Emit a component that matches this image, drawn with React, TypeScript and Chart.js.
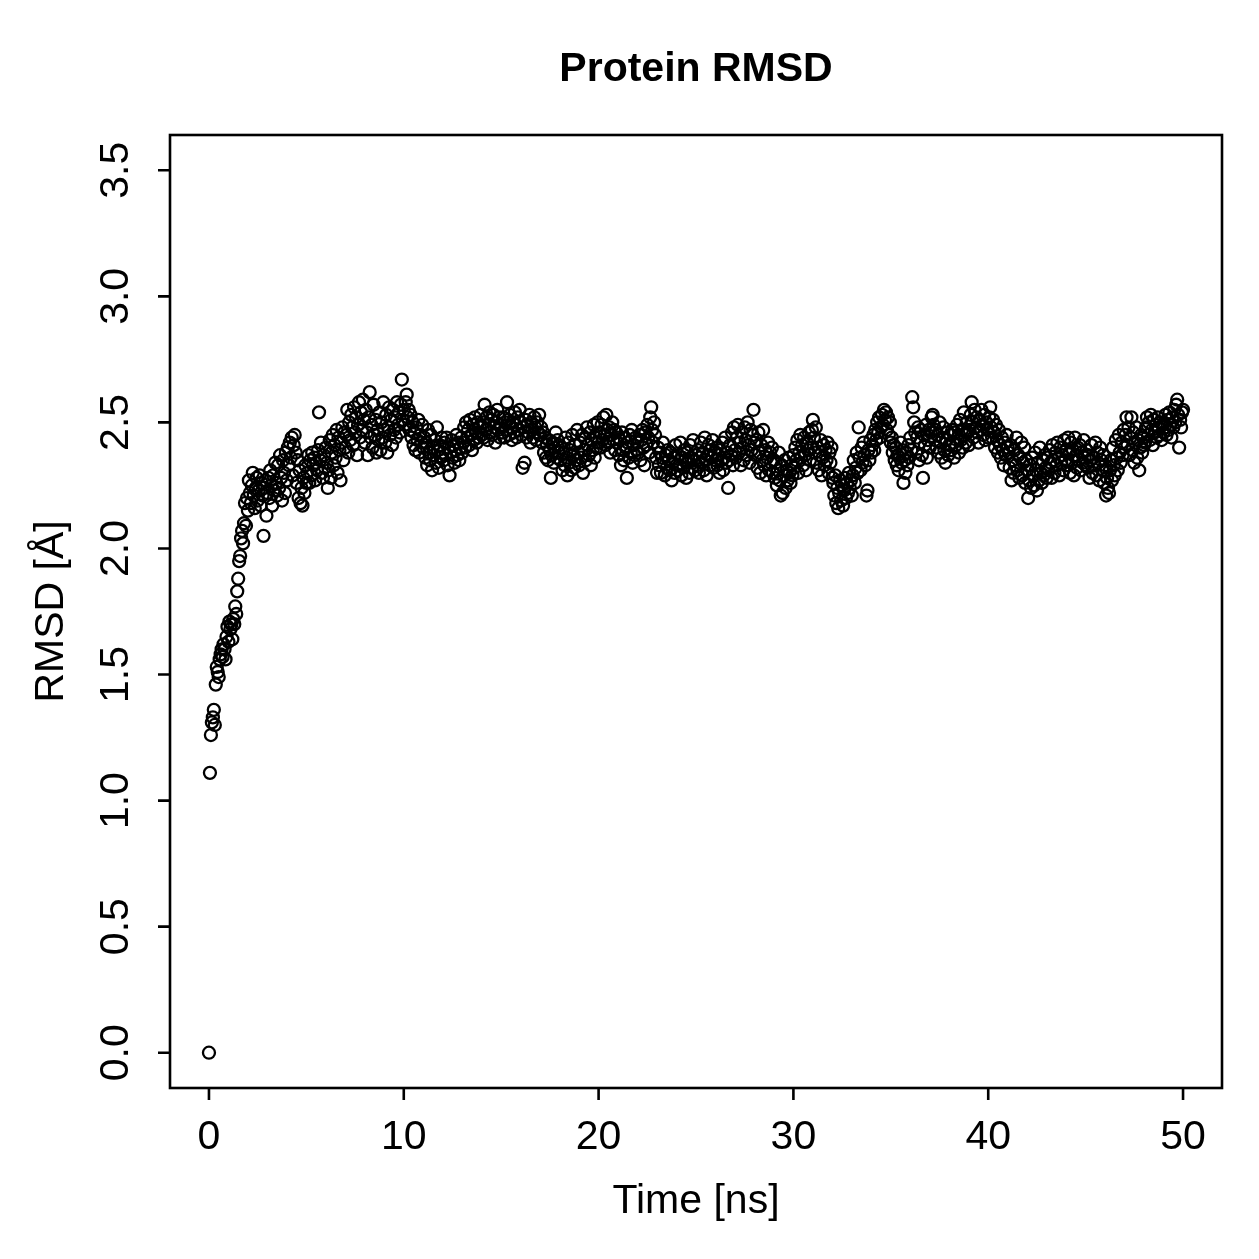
import React, { useEffect, useRef } from "react";
import { Chart, registerables } from "chart.js";

Chart.register(...registerables);

const TITLE = "Protein RMSD";
const X_LABEL = "Time [ns]";
const Y_LABEL = "RMSD [Å]";
const TIME_STEP_NS = 0.05;
const X_TICKS = [0, 10, 20, 30, 40, 50];
const Y_TICKS = [0, 0.5, 1, 1.5, 2, 2.5, 3, 3.5];
const Y_TICK_LABELS = ["0.0", "0.5", "1.0", "1.5", "2.0", "2.5", "3.0", "3.5"];

// RMSD values (Å), one per 0.05 ns frame
const rmsd0to2 = [
  0.00, 1.11, 1.26, 1.31, 1.33, 1.36, 1.30, 1.46, 1.53, 1.51, 1.49, 1.56, 1.58, 1.60, 1.57, 1.62, 1.60, 1.56, 1.65, 1.69,
  1.63, 1.71, 1.68, 1.70, 1.64, 1.72, 1.70, 1.77, 1.74, 1.83, 1.88, 1.95, 1.97, 2.04, 2.07, 2.02, 2.10, 2.18, 2.09, 2.20,
  2.15,
];
const rmsd2to10 = [
  2.27, 2.22, 2.18, 2.25, 2.30, 2.21, 2.16, 2.24, 2.28, 2.19, 2.23, 2.29, 2.17, 2.26, 2.21, 2.05, 2.24, 2.27, 2.13, 2.22,
  2.28, 2.20, 2.31, 2.25, 2.17, 2.29, 2.23, 2.34, 2.26, 2.21, 2.33, 2.24, 2.37, 2.28, 2.19, 2.35, 2.30, 2.22, 2.38, 2.27,
  2.40, 2.33, 2.42, 2.36, 2.44, 2.29, 2.41, 2.45, 2.38, 2.26, 2.35, 2.20, 2.31, 2.18, 2.24, 2.17, 2.28, 2.22, 2.33, 2.26,
  2.30, 2.37, 2.26, 2.35, 2.29, 2.38, 2.33, 2.36, 2.27, 2.34, 2.31, 2.39, 2.54, 2.35, 2.42, 2.30, 2.28, 2.37, 2.32, 2.40,
  2.34, 2.24, 2.31, 2.43, 2.28, 2.38, 2.45, 2.33, 2.41, 2.36, 2.47, 2.30, 2.44, 2.39, 2.27, 2.42, 2.48, 2.35, 2.46, 2.40,
  2.45, 2.55, 2.38, 2.50, 2.43, 2.53, 2.48, 2.41, 2.56, 2.46, 2.52, 2.37, 2.49, 2.58, 2.44, 2.54, 2.47, 2.59, 2.51, 2.42,
  2.55, 2.46, 2.37, 2.52, 2.62, 2.44, 2.49, 2.40, 2.57, 2.45, 2.51, 2.38, 2.47, 2.43, 2.54, 2.39, 2.50, 2.44, 2.58, 2.47,
  2.42, 2.53, 2.38, 2.48, 2.56, 2.45, 2.51, 2.41, 2.55, 2.47, 2.52, 2.44, 2.58, 2.49, 2.54, 2.46, 2.57, 2.67, 2.51, 2.55,
];
const rmsd10to20 = [
  2.49, 2.58, 2.61, 2.52, 2.55, 2.47, 2.53, 2.44, 2.50, 2.41, 2.46, 2.39, 2.48, 2.43, 2.51, 2.38, 2.45, 2.42, 2.49, 2.40,
  2.44, 2.36, 2.42, 2.33, 2.47, 2.38, 2.35, 2.45, 2.31, 2.40, 2.37, 2.43, 2.34, 2.48, 2.39, 2.32, 2.41, 2.36, 2.44, 2.38,
  2.35, 2.42, 2.37, 2.44, 2.33, 2.40, 2.29, 2.38, 2.43, 2.36, 2.41, 2.34, 2.39, 2.45, 2.37, 2.42, 2.35, 2.40, 2.44, 2.38,
  2.42, 2.48, 2.40, 2.50, 2.44, 2.47, 2.41, 2.51, 2.45, 2.39, 2.49, 2.43, 2.52, 2.46, 2.42, 2.50, 2.44, 2.48, 2.53, 2.45,
  2.50, 2.44, 2.57, 2.47, 2.52, 2.43, 2.49, 2.54, 2.46, 2.51, 2.45, 2.53, 2.48, 2.42, 2.50, 2.55, 2.47, 2.52, 2.44, 2.49,
  2.46, 2.52, 2.44, 2.50, 2.47, 2.58, 2.51, 2.45, 2.53, 2.48, 2.43, 2.50, 2.46, 2.54, 2.49, 2.44, 2.52, 2.47, 2.55, 2.50,
  2.45, 2.32, 2.48, 2.34, 2.51, 2.44, 2.49, 2.46, 2.53, 2.42, 2.50, 2.47, 2.44, 2.52, 2.48, 2.43, 2.50, 2.46, 2.53, 2.45,
  2.48, 2.42, 2.46, 2.38, 2.44, 2.36, 2.41, 2.35, 2.43, 2.39, 2.28, 2.37, 2.42, 2.34, 2.40, 2.46, 2.36, 2.43, 2.38, 2.41,
  2.35, 2.40, 2.31, 2.38, 2.33, 2.44, 2.36, 2.29, 2.42, 2.34, 2.39, 2.31, 2.45, 2.37, 2.32, 2.41, 2.35, 2.47, 2.38, 2.33,
  2.42, 2.36, 2.45, 2.30, 2.39, 2.44, 2.35, 2.48, 2.41, 2.37, 2.46, 2.33, 2.43, 2.39, 2.49, 2.36, 2.44, 2.40, 2.50, 2.42,
];
const rmsd20to30 = [
  2.46, 2.40, 2.49, 2.43, 2.52, 2.45, 2.41, 2.53, 2.47, 2.42, 2.48, 2.38, 2.45, 2.50, 2.43, 2.47, 2.39, 2.46, 2.42, 2.44,
  2.37, 2.43, 2.33, 2.46, 2.39, 2.35, 2.44, 2.40, 2.28, 2.42, 2.36, 2.45, 2.38, 2.47, 2.34, 2.41, 2.37, 2.44, 2.39, 2.42,
  2.38, 2.45, 2.35, 2.43, 2.47, 2.40, 2.33, 2.46, 2.41, 2.49, 2.44, 2.38, 2.52, 2.56, 2.47, 2.42, 2.50, 2.45, 2.36, 2.30,
  2.40, 2.33, 2.38, 2.30, 2.36, 2.42, 2.34, 2.29, 2.37, 2.32, 2.39, 2.35, 2.31, 2.38, 2.27, 2.34, 2.36, 2.30, 2.41, 2.33,
  2.31, 2.37, 2.33, 2.42, 2.29, 2.36, 2.32, 2.39, 2.35, 2.28, 2.38, 2.34, 2.30, 2.41, 2.36, 2.32, 2.43, 2.35, 2.31, 2.37,
  2.33, 2.39, 2.30, 2.36, 2.42, 2.34, 2.38, 2.31, 2.44, 2.35, 2.29, 2.37, 2.41, 2.33, 2.39, 2.36, 2.43, 2.32, 2.38, 2.35,
  2.40, 2.33, 2.37, 2.30, 2.39, 2.35, 2.42, 2.31, 2.36, 2.44, 2.34, 2.38, 2.24, 2.35, 2.41, 2.37, 2.46, 2.33, 2.48, 2.39,
  2.36, 2.44, 2.49, 2.38, 2.42, 2.33, 2.46, 2.40, 2.35, 2.48, 2.43, 2.37, 2.50, 2.41, 2.34, 2.47, 2.39, 2.45, 2.55, 2.42,
  2.37, 2.43, 2.32, 2.46, 2.38, 2.30, 2.41, 2.35, 2.47, 2.33, 2.39, 2.29, 2.36, 2.42, 2.31, 2.38, 2.34, 2.40, 2.30, 2.35,
  2.28, 2.34, 2.25, 2.31, 2.38, 2.27, 2.21, 2.33, 2.22, 2.29, 2.35, 2.24, 2.31, 2.27, 2.36, 2.30, 2.26, 2.33, 2.29, 2.37,
];
const rmsd30to40 = [
  2.32, 2.40, 2.35, 2.43, 2.30, 2.38, 2.45, 2.36, 2.41, 2.33, 2.44, 2.37, 2.31, 2.42, 2.39, 2.46, 2.35, 2.40, 2.47, 2.51,
  2.44, 2.38, 2.48, 2.34, 2.40, 2.31, 2.37, 2.43, 2.29, 2.36, 2.41, 2.33, 2.39, 2.35, 2.42, 2.30, 2.38, 2.34, 2.40, 2.28,
  2.26, 2.21, 2.29, 2.18, 2.24, 2.16, 2.22, 2.27, 2.19, 2.25, 2.17, 2.23, 2.28, 2.20, 2.26, 2.22, 2.30, 2.24, 2.27, 2.21,
  2.29, 2.35, 2.26, 2.32, 2.38, 2.30, 2.48, 2.36, 2.31, 2.40, 2.34, 2.42, 2.37, 2.33, 2.21, 2.23, 2.39, 2.35, 2.43, 2.38,
  2.41, 2.45, 2.39, 2.47, 2.43, 2.50, 2.46, 2.52, 2.44, 2.48, 2.53, 2.49, 2.55, 2.51, 2.54, 2.47, 2.52, 2.45, 2.50, 2.42,
  2.44, 2.38, 2.41, 2.35, 2.40, 2.33, 2.37, 2.31, 2.36, 2.42, 2.34, 2.39, 2.26, 2.35, 2.30, 2.38, 2.33, 2.41, 2.36, 2.44,
  2.39, 2.60, 2.56, 2.50, 2.46, 2.38, 2.44, 2.48, 2.35, 2.42, 2.47, 2.37, 2.28, 2.45, 2.41, 2.49, 2.36, 2.43, 2.47, 2.40,
  2.46, 2.52, 2.53, 2.49, 2.43, 2.47, 2.40, 2.45, 2.38, 2.50, 2.42, 2.36, 2.44, 2.48, 2.39, 2.34, 2.43, 2.46, 2.37, 2.41,
  2.45, 2.39, 2.47, 2.42, 2.36, 2.46, 2.41, 2.49, 2.44, 2.38, 2.51, 2.43, 2.47, 2.40, 2.54, 2.45, 2.42, 2.50, 2.46, 2.41,
  2.47, 2.53, 2.58, 2.50, 2.44, 2.55, 2.48, 2.52, 2.46, 2.42, 2.51, 2.47, 2.55, 2.49, 2.45, 2.53, 2.43, 2.50, 2.47, 2.44,
];
const rmsd40to50 = [
  2.52, 2.56, 2.48, 2.44, 2.51, 2.46, 2.40, 2.49, 2.43, 2.38, 2.47, 2.41, 2.36, 2.44, 2.39, 2.33, 2.42, 2.37, 2.45, 2.40,
  2.38, 2.32, 2.41, 2.27, 2.35, 2.30, 2.39, 2.33, 2.44, 2.31, 2.37, 2.28, 2.36, 2.42, 2.29, 2.34, 2.40, 2.26, 2.35, 2.31,
  2.20, 2.27, 2.33, 2.24, 2.36, 2.29, 2.25, 2.38, 2.31, 2.23, 2.34, 2.27, 2.40, 2.30, 2.26, 2.35, 2.29, 2.37, 2.32, 2.28,
  2.36, 2.31, 2.39, 2.34, 2.28, 2.41, 2.35, 2.30, 2.38, 2.33, 2.42, 2.36, 2.29, 2.40, 2.34, 2.37, 2.31, 2.43, 2.35, 2.39,
  2.33, 2.44, 2.38, 2.30, 2.42, 2.35, 2.39, 2.29, 2.44, 2.37, 2.32, 2.40, 2.35, 2.41, 2.31, 2.38, 2.34, 2.43, 2.36, 2.33,
  2.39, 2.32, 2.37, 2.28, 2.35, 2.41, 2.30, 2.36, 2.33, 2.42, 2.29, 2.38, 2.34, 2.27, 2.40, 2.35, 2.31, 2.37, 2.26, 2.33,
  2.21, 2.28, 2.24, 2.22, 2.31, 2.35, 2.27, 2.40, 2.33, 2.29, 2.43, 2.36, 2.31, 2.45, 2.38, 2.34, 2.42, 2.37, 2.47, 2.40,
  2.45, 2.52, 2.41, 2.48, 2.37, 2.44, 2.52, 2.39, 2.46, 2.34, 2.42, 2.48, 2.36, 2.43, 2.31, 2.40, 2.45, 2.38, 2.44, 2.41,
  2.42, 2.48, 2.52, 2.45, 2.50, 2.43, 2.53, 2.47, 2.41, 2.51, 2.46, 2.49, 2.44, 2.52, 2.48, 2.45, 2.50, 2.43, 2.49, 2.46,
  2.48, 2.53, 2.45, 2.51, 2.47, 2.54, 2.49, 2.44, 2.52, 2.48, 2.55, 2.50, 2.57, 2.59, 2.53, 2.40, 2.51, 2.48, 2.54, 2.55,
];

const RMSD = [...rmsd0to2, ...rmsd2to10, ...rmsd10to20, ...rmsd20to30, ...rmsd30to40, ...rmsd40to50];

const FONT = '"Liberation Sans", Arial, Helvetica, sans-serif';
const POINT_RADIUS = 6;
const POINT_STROKE = 2.3;

const axesPlugin = {
  id: "rAxes",
  afterDraw(chart: any) {
    const { ctx, chartArea, scales } = chart;
    const xs = scales.x;
    const ys = scales.y;
    ctx.save();
    ctx.strokeStyle = "#000";
    ctx.fillStyle = "#000";
    ctx.lineWidth = 2.6;
    ctx.lineCap = "butt";
    ctx.strokeRect(chartArea.left, chartArea.top, chartArea.right - chartArea.left, chartArea.bottom - chartArea.top);
    const tickLen = 12;
    ctx.beginPath();
    X_TICKS.forEach((v) => {
      const px = xs.getPixelForValue(v);
      ctx.moveTo(px, chartArea.bottom);
      ctx.lineTo(px, chartArea.bottom + tickLen);
    });
    Y_TICKS.forEach((v) => {
      const py = ys.getPixelForValue(v);
      ctx.moveTo(chartArea.left, py);
      ctx.lineTo(chartArea.left - tickLen, py);
    });
    ctx.stroke();
    ctx.font = `41px ${FONT}`;
    ctx.textAlign = "center";
    ctx.textBaseline = "middle";
    X_TICKS.forEach((v) => {
      const px = xs.getPixelForValue(v);
      ctx.fillText(String(v), px, 1138);
    });
    Y_TICKS.forEach((v, i) => {
      const py = ys.getPixelForValue(v);
      ctx.save();
      ctx.translate(117, py);
      ctx.rotate(-Math.PI / 2);
      ctx.fillText(Y_TICK_LABELS[i], 0, 0);
      ctx.restore();
    });
    const cx = (chartArea.left + chartArea.right) / 2;
    const cy = (chartArea.top + chartArea.bottom) / 2;
    ctx.fillText(X_LABEL, cx, 1202);
    ctx.save();
    ctx.translate(52, cy);
    ctx.rotate(-Math.PI / 2);
    ctx.fillText(Y_LABEL, 0, 0);
    ctx.restore();
    ctx.font = `bold 41px ${FONT}`;
    ctx.fillText(TITLE, cx, 70);
    ctx.restore();
  },
};

export default function App() {
  const ref = useRef<HTMLCanvasElement | null>(null);
  useEffect(() => {
    if (!ref.current) return;
    const data = RMSD.map((v, i) => ({ x: Math.round(i * TIME_STEP_NS * 100) / 100, y: v }));
    const chart = new Chart(ref.current, {
      type: "scatter",
      data: {
        datasets: [
          {
            label: "RMSD",
            data,
            pointStyle: "circle",
            pointRadius: POINT_RADIUS,
            pointBorderWidth: POINT_STROKE,
            pointBackgroundColor: "rgba(0,0,0,0)",
            pointBorderColor: "#000",
          },
        ],
      },
      options: {
        responsive: false,
        animation: false,
        devicePixelRatio: 1,
        elements: { point: { radius: POINT_RADIUS, borderWidth: POINT_STROKE, hoverRadius: POINT_RADIUS } },
        layout: { padding: { left: 170, top: 135, right: 37, bottom: 171 } },
        plugins: { legend: { display: false }, tooltip: { enabled: false }, title: { display: false } },
        scales: {
          x: { type: "linear", min: -2, max: 52, display: false },
          y: { type: "linear", min: -0.14, max: 3.64, display: false },
        },
      },
      plugins: [axesPlugin],
    });
    return () => chart.destroy();
  }, []);
  return (
    <div style={{ position: "fixed", left: 0, top: 0, width: 1259, height: 1259, background: "#fff" }}>
      <canvas ref={ref} width={1259} height={1259} style={{ width: 1259, height: 1259 }} />
    </div>
  );
}
